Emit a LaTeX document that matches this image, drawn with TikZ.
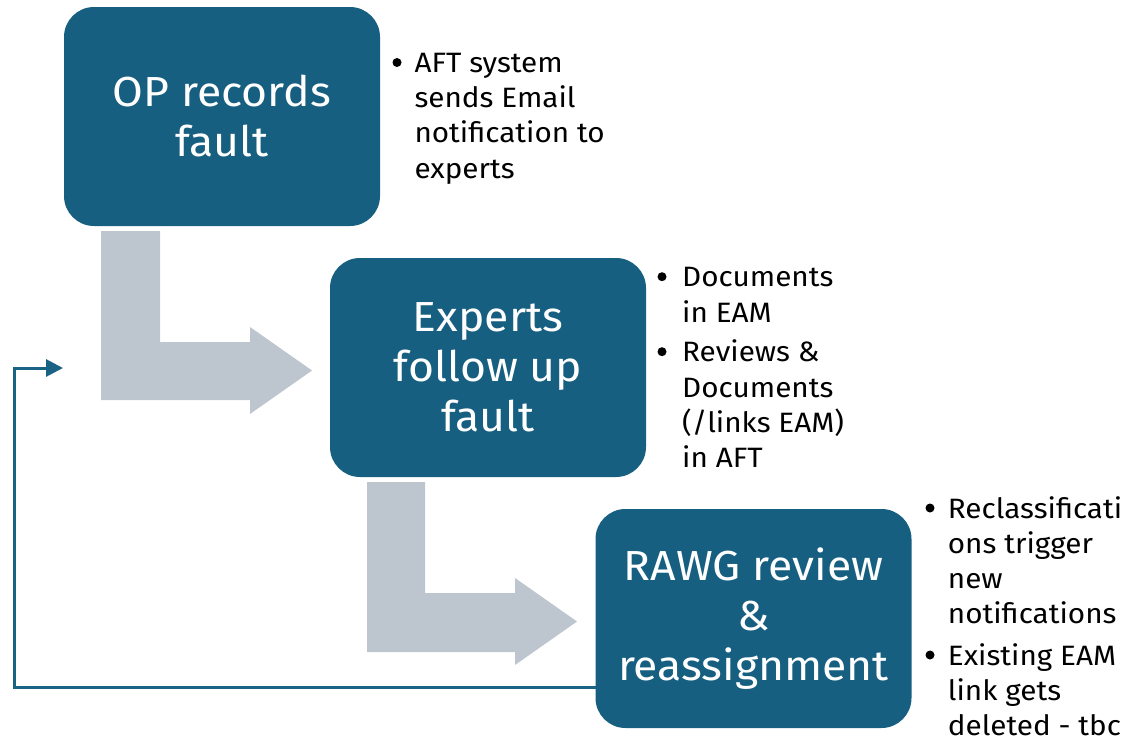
\documentclass[tikz,border=0pt]{standalone}
\usepackage{fontspec}
\setmainfont{Fira Sans}[FakeStretch=1.06]
\usetikzlibrary{arrows.meta}
\definecolor{boxblue}{RGB}{23,95,128}
\definecolor{arrowgray}{RGB}{189,197,206}
\definecolor{lineblue}{RGB}{27,99,132}
\newcommand{\bulletlines}[1]{\begin{tabular}[t]{@{}l@{}}#1\end{tabular}}
\tikzset{
  stepbox/.style={draw=none, fill=boxblue, rounded corners=30pt, minimum width=316pt, minimum height=219pt, inner sep=0pt, text=white, align=center, font=\fontsize{42}{50}\selectfont},
  bullettext/.style={anchor=base west, inner sep=0pt, font=\fontsize{28}{35.3}\selectfont},
  bulletdot/.style={circle, fill=black, inner sep=0pt, minimum size=9pt},
  bentarrow/.style={fill=arrowgray, draw=none},
  feedback/.style={draw=lineblue, line width=3pt, -{Triangle[length=17pt,width=17pt]}}
}
\begin{document}
\begin{tikzpicture}[x=1pt,y=-1pt]
\useasboundingbox (0,0) rectangle (1135,736);
% bent arrows
\fill[bentarrow] (101,231) -- (160,231) -- (160,342) -- (250,342) -- (250,327) -- (312,370.5) -- (250,414) -- (250,400) -- (101,400) -- cycle;
\fill[bentarrow] (367,482) -- (425,482) -- (425,593) -- (515,593) -- (515,578) -- (577,621.5) -- (515,665) -- (515,652) -- (367,652) -- cycle;
% boxes
\node[stepbox] (box1) at (222,116.5) {OP records\\fault};
\node[stepbox] (box2) at (488,367.5) {Experts\\follow up\\fault};
\node[stepbox] (box3) at (753.5,618.5) {RAWG review\\\&\\reassignment};
% feedback connector
\coordinate (fbs) at (596,687);
\coordinate (fbc) at (14,368);
\coordinate (fbe) at (63,368);
\draw[feedback] (fbs) -| (fbc) -- (fbe);
% bullets box1
\node[bulletdot] (b1d) at (397,62.5) {};
\node[bullettext] (b1t) at (414.3,72.3) {\bulletlines{AFT system\\sends Email\\notification to\\experts}};
% bullets box2
\node[bulletdot] (b2d1) at (662,276.7) {};
\node[bullettext] (b2t1) at (682,286.7) {\bulletlines{Documents\\in EAM}};
\node[bulletdot] (b2d2) at (662,351.7) {};
\node[bullettext] (b2t2) at (682,361.7) {\bulletlines{Reviews \&\\Documents\\(/links EAM)\\in AFT}};
% bullets box3
\node[bulletdot] (b3d1) at (930,508) {};
\node[bullettext] (b3t1) at (947.7,518) {\bulletlines{Reclassificati\\ons trigger\\new\\notifications}};
\node[bulletdot] (b3d2) at (930,655) {};
\node[bullettext] (b3t2) at (947.7,665) {\bulletlines{Existing EAM\\link gets\\deleted - tbc}};
\end{tikzpicture}
\end{document}
